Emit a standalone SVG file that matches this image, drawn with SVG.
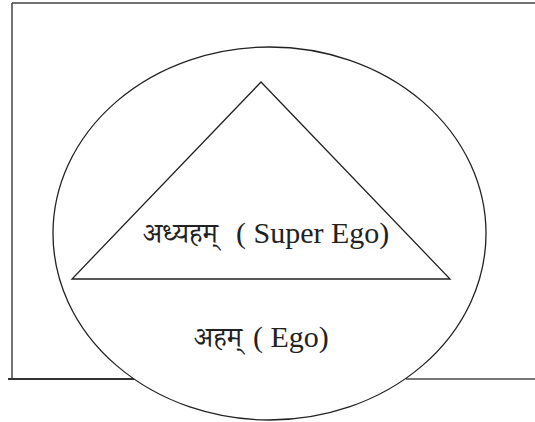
<svg xmlns="http://www.w3.org/2000/svg" width="535" height="422" viewBox="0 0 535 422">
<style>
.frame{fill:none;stroke:#444;stroke-width:1.5}
.shape{fill:none;stroke:#222;stroke-width:1.3}
.dev{font-family:"Noto Serif Devanagari","Noto Sans Devanagari","Lohit Devanagari",sans-serif;font-size:28px;fill:#222}
.lat{font-family:"Liberation Serif","DejaVu Serif",serif;font-size:30px;fill:#222}
</style>
<rect width="535" height="422" fill="#fff"/>
<g id="frame">
<line class="frame" x1="12" y1="3" x2="535" y2="3"/>
<line class="frame" x1="12" y1="3" x2="12" y2="379"/>
<line x1="8" y1="379" x2="134" y2="379" stroke="#333" stroke-width="2"/>
<line x1="406" y1="379" x2="535" y2="379" stroke="#777" stroke-width="2"/>
</g>
<g id="ego">
<ellipse class="shape" cx="269.5" cy="233.5" rx="216.5" ry="186.5"/>
<text class="dev" x="194" y="347">अहम्</text>
<text class="lat" x="253" y="347">( Ego)</text>
</g>
<g id="superego">
<polygon class="shape" points="261,82 72,279 450,279"/>
<text class="dev" x="143" y="243">अध्यहम्</text>
<text class="lat" x="236" y="243">( Super Ego)</text>
</g>
</svg>
